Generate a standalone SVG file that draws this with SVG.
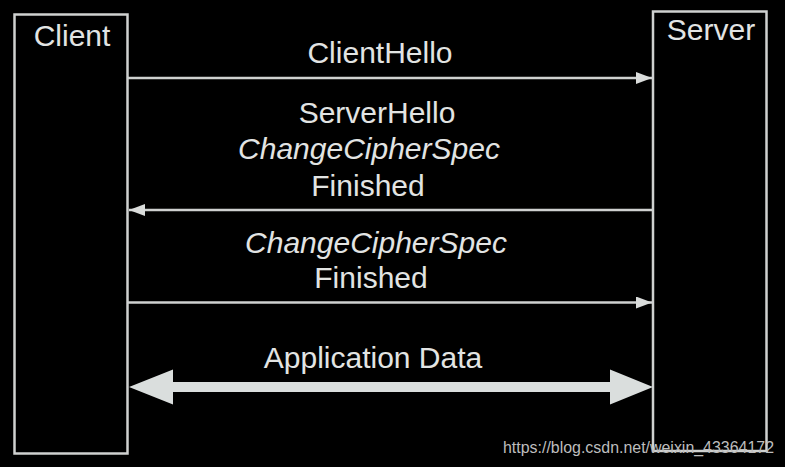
<svg xmlns="http://www.w3.org/2000/svg" width="785" height="467" viewBox="0 0 785 467">
<style>
.box{fill:#000;stroke:#cfd1d0;stroke-width:2.5}
.t{font-family:"Liberation Sans",Arial,sans-serif;font-size:30px;fill:#e2e4e3;text-anchor:middle}
.i{font-style:italic}
.ln{stroke:#cfd1d0;stroke-width:2.5;fill:none}
.wm{font-family:"Liberation Sans",Arial,sans-serif;font-size:16px;fill:#bdbdbd}
</style>
<defs>
<marker id="ah" viewBox="0 0 16 12" refX="16" refY="6" markerWidth="16" markerHeight="12" markerUnits="userSpaceOnUse" orient="auto-start-reverse">
<path d="M0,0 L16,6 L0,12 Z" fill="#dadcdb"/>
</marker>
</defs>
<rect width="785" height="467" fill="#000"/>
<g id="client">
<rect class="box" x="14.5" y="14.5" width="113" height="439"/>
<text class="t" x="72" y="46">Client</text>
</g>
<g id="server">
<rect class="box" x="653" y="11.5" width="113.5" height="439.5"/>
<text class="t" x="711" y="40">Server</text>
</g>
<g id="connectors">
<line class="ln" x1="128" y1="78" x2="652" y2="78" marker-end="url(#ah)"/>
<line class="ln" x1="652" y1="210" x2="129" y2="210" marker-end="url(#ah)"/>
<line class="ln" x1="128" y1="302.5" x2="652" y2="302.5" marker-end="url(#ah)"/>
<path d="M129,387 L173,369.5 L173,382 L610,382 L610,369.5 L653,387 L610,404.5 L610,392 L173,392 L173,404.5 Z" fill="#dadedd"/>
</g>
<g id="labels">
<text class="t" x="380" y="63">ClientHello</text>
<text class="t" x="377" y="123">ServerHello</text>
<text class="t i" x="369" y="159">ChangeCipherSpec</text>
<text class="t" x="368" y="196">Finished</text>
<text class="t i" x="376" y="253">ChangeCipherSpec</text>
<text class="t" x="371" y="288">Finished</text>
<text class="t" x="373" y="368">Application Data</text>
</g>
<text class="wm" x="503" y="453" textLength="271" lengthAdjust="spacingAndGlyphs">https://blog.csdn.net/weixin_43364172</text>
</svg>
